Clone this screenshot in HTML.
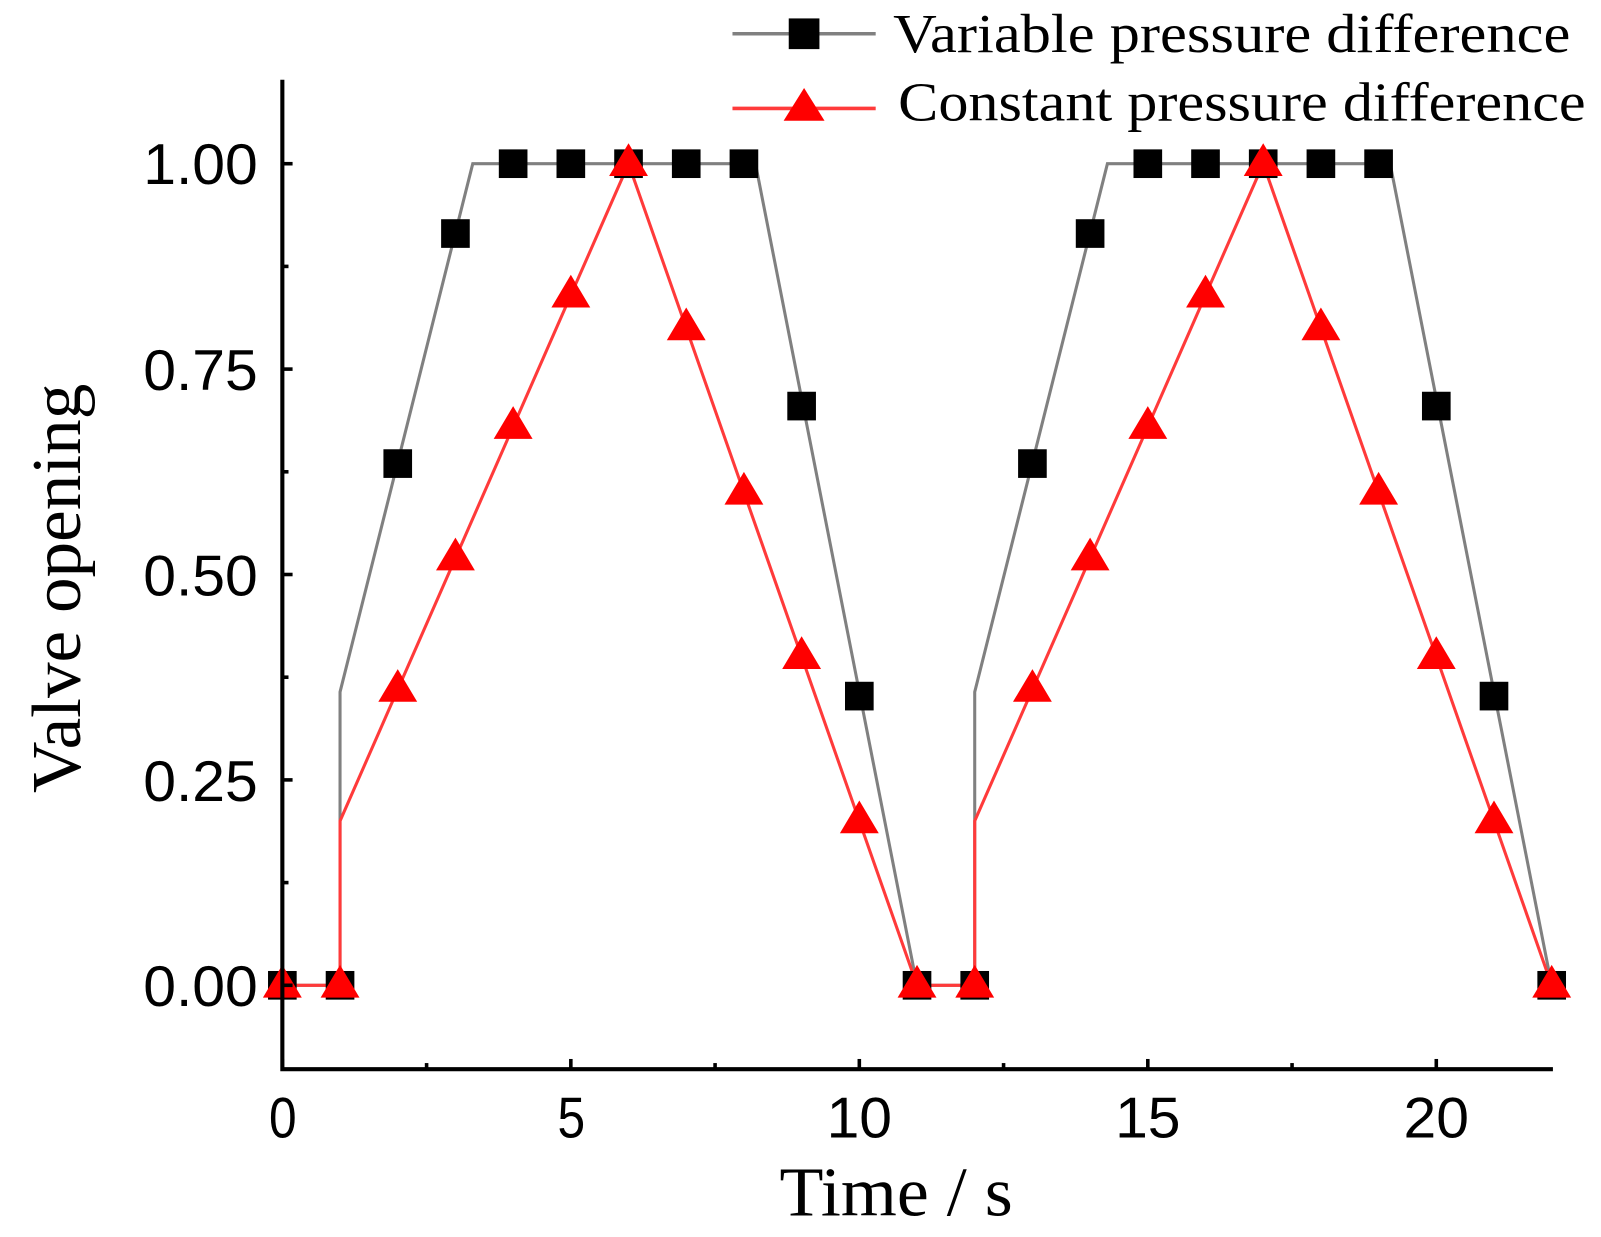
<!DOCTYPE html>
<html><head><meta charset="utf-8"><style>html,body{margin:0;padding:0;background:#fff}svg{display:block}</style></head>
<body>
<svg id="s" width="1601" height="1237" viewBox="0 0 1565 1209" preserveAspectRatio="none" xmlns="http://www.w3.org/2000/svg">
<g id="plot"></g>
<g fill="none" stroke="#000" stroke-width="4">
<path d="M276,78 L276,1045 L1518,1045"/>
</g>
<g id="ticks" stroke="#000" stroke-width="3.5"></g>
<g font-family="Liberation Sans, sans-serif" font-size="56" fill="#000" lengthAdjust="spacingAndGlyphs">
<text x="140" y="180" textLength="112" lengthAdjust="spacingAndGlyphs">1.00</text>
<text x="140" y="381" textLength="112" lengthAdjust="spacingAndGlyphs">0.75</text>
<text x="140" y="582" textLength="112" lengthAdjust="spacingAndGlyphs">0.50</text>
<text x="140" y="783" textLength="112" lengthAdjust="spacingAndGlyphs">0.25</text>
<text x="140" y="983" textLength="112" lengthAdjust="spacingAndGlyphs">0.00</text>
<text x="263" y="1112" textLength="27" lengthAdjust="spacingAndGlyphs">0</text>
<text x="545" y="1112" textLength="27" lengthAdjust="spacingAndGlyphs">5</text>
<text x="808" y="1112" textLength="64" lengthAdjust="spacingAndGlyphs">10</text>
<text x="1090" y="1112" textLength="64" lengthAdjust="spacingAndGlyphs">15</text>
<text x="1372" y="1112" textLength="64" lengthAdjust="spacingAndGlyphs">20</text>
</g>
<g font-family="Liberation Serif, serif" fill="#000">
<text x="762" y="1188" font-size="68" textLength="228" lengthAdjust="spacingAndGlyphs">Time / s</text>
<text transform="translate(78,775) rotate(-90)" font-size="68" textLength="400" lengthAdjust="spacingAndGlyphs">Valve opening</text>
<text x="873" y="51" font-size="54" textLength="662" lengthAdjust="spacingAndGlyphs">Variable pressure difference</text>
<text x="878" y="118" font-size="54" textLength="672" lengthAdjust="spacingAndGlyphs">Constant pressure difference</text>
</g>
<g>
<line x1="716" y1="33" x2="856" y2="33" stroke="#808080" stroke-width="3.5"/>
<rect x="771" y="18" width="30" height="30" fill="#000"/>
<line x1="716" y1="106" x2="856" y2="106" stroke="#ff3a3a" stroke-width="3.5"/>
<polygon points="786,86 806,118 766,118" fill="#f00"/>
</g>
<script>
var X=t=>276+56.4*t, Y=v=>963-803*v;
var ns="http://www.w3.org/2000/svg",P=document.getElementById('plot'),T=document.getElementById('ticks');
function el(n,a,p){var e=document.createElementNS(ns,n);for(var k in a)e.setAttribute(k,a[k]);(p||P).appendChild(e);return e;}
for(var i=0;i<=8;i++){var v=i*0.125;var L=(i%2==0)?10:6;el('line',{x1:276,x2:276+L,y1:Y(v),y2:Y(v)},T);}
for(var i=0;i<=8;i++){var t=i*2.5;var L=(i%2==0)?10:6;el('line',{x1:X(t),x2:X(t),y1:1045,y2:1045-L},T);}
var g=[[0,0],[1,0],[1,0.357],[3.3,1],[8.2,1],[11,0],[12,0],[12,0.357],[14.3,1],[19.2,1],[22,0]];
el('polyline',{points:g.map(p=>X(p[0])+','+Y(p[1])).join(' '),fill:'none',stroke:'#808080','stroke-width':3});
var sq=[0,0,0.635,0.915,1,1,1,1,1,0.705,0.352,0];
var rd=[0,0,0.36,0.52,0.68,0.84,1,0.8,0.6,0.4,0.2,0];
var r=[[0,0],[1,0],[1,0.2]];for(var t=2;t<=11;t++)r.push([t,rd[t]]);r.push([12,0],[12,0.2]);for(var t=13;t<=22;t++)r.push([t,rd[t-11]]);
el('polyline',{points:r.map(p=>X(p[0])+','+Y(p[1])).join(' '),fill:'none',stroke:'#ff3a3a','stroke-width':3});
for(var t=0;t<=22;t++){var v=t<=11?sq[t]:sq[t-11];el('rect',{x:X(t)-14,y:Y(v)-14,width:28,height:28,fill:'#000'});}
for(var t=0;t<=22;t++){var v=t<=11?rd[t]:rd[t-11];var x=X(t),y=Y(v);el('polygon',{points:(x)+','+(y-20)+' '+(x+19)+','+(y+12)+' '+(x-19)+','+(y+12),fill:'#f00'});}
</script>
</svg>
</body></html>
